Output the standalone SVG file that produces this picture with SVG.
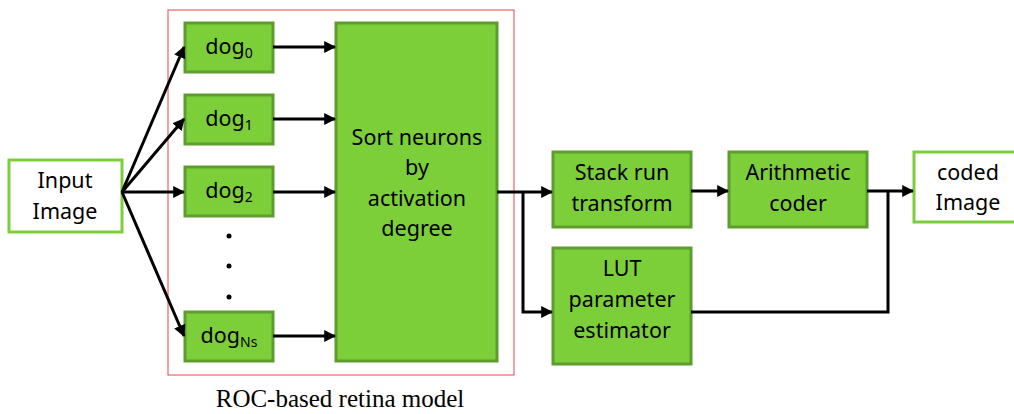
<svg xmlns="http://www.w3.org/2000/svg" width="1014" height="414" viewBox="0 0 1014 414">
<style>
.g{fill:#7dcf3a;stroke:#5e9c2e;stroke-width:3}
.w{fill:#fff;stroke:#7dcf3a;stroke-width:3}
.t{font-family:"Noto Sans","Open Sans",sans-serif;font-size:21.5px;fill:#000;text-anchor:middle}
.c{stroke:#000;stroke-width:3;fill:none}
.a{marker-end:url(#ah)}
</style>
<defs>
<marker id="ah" viewBox="0 0 10 10" refX="9" refY="5" markerWidth="4" markerHeight="4" orient="auto" markerUnits="strokeWidth">
<path d="M0,0 L10,5 L0,10 z" fill="#000"/>
</marker>
</defs>
<rect x="168" y="10" width="346" height="365" fill="none" stroke="#ee4444" stroke-width="1"/>
<g id="input"><rect class="w" x="9" y="160" width="113" height="72"/><text class="t" x="65" y="188">Input</text><text class="t" x="65" y="219">Image</text></g>
<g id="dog0"><rect class="g" x="185" y="23" width="88" height="49"/><text class="t" x="229" y="54">dog<tspan font-size="14" dy="4">0</tspan></text></g>
<g id="dog1"><rect class="g" x="185" y="95" width="88" height="49"/><text class="t" x="229" y="126">dog<tspan font-size="14" dy="4">1</tspan></text></g>
<g id="dog2"><rect class="g" x="185" y="167" width="88" height="49"/><text class="t" x="229" y="198">dog<tspan font-size="14" dy="4">2</tspan></text></g>
<g id="dots" fill="#000"><circle cx="229" cy="236" r="2.5"/><circle cx="229" cy="266" r="2.5"/><circle cx="229" cy="297" r="2.5"/></g>
<g id="dogNs"><rect class="g" x="185" y="312" width="88" height="49"/><text class="t" x="229" y="343">dog<tspan font-size="14" dy="4">Ns</tspan></text></g>
<g id="sort"><rect class="g" x="336" y="23" width="161" height="338"/>
<text class="t" x="417" y="145">Sort neurons</text><text class="t" x="417" y="175">by</text><text class="t" x="417" y="206">activation</text><text class="t" x="417" y="236">degree</text></g>
<g id="stack"><rect class="g" x="553" y="152" width="138" height="75"/><text class="t" x="622" y="180">Stack run</text><text class="t" x="622" y="211">transform</text></g>
<g id="lut"><rect class="g" x="553" y="248" width="138" height="116"/><text class="t" x="622" y="276">LUT</text><text class="t" x="622" y="307">parameter</text><text class="t" x="622" y="338">estimator</text></g>
<g id="arith"><rect class="g" x="729" y="152" width="138" height="75"/><text class="t" x="798" y="180">Arithmetic</text><text class="t" x="798" y="211">coder</text></g>
<g id="coded"><rect class="w" x="914" y="152" width="110" height="70"/><text class="t" x="968" y="180">coded</text><text class="t" x="968" y="210">Image</text></g>
<g id="connectors">
<path class="c a" d="M122,192 L184,47"/>
<path class="c a" d="M122,192 L184,119"/>
<path class="c a" d="M122,192 L184,192"/>
<path class="c a" d="M122,192 L184,336"/>
<path class="c a" d="M273,47 L335,47"/>
<path class="c a" d="M273,119 L335,119"/>
<path class="c a" d="M273,192 L335,192"/>
<path class="c a" d="M273,336 L335,336"/>
<path class="c a" d="M497,192 L552,192"/>
<path class="c a" d="M523,192 L523,312 L552,312"/>
<path class="c a" d="M691,191 L728,191"/>
<path class="c a" d="M867,191 L913,191"/>
<path class="c" d="M691,312 L888,312 L888,191"/>
</g>
<text x="340" y="407" font-family="Liberation Serif,serif" font-size="25" text-anchor="middle" fill="#000">ROC-based retina model</text>
</svg>
